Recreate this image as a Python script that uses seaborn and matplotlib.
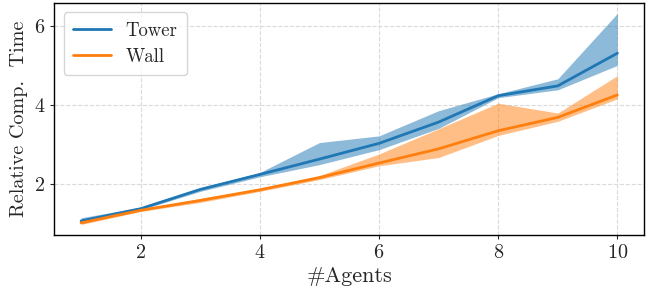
import numpy as np
import pandas as pd
import matplotlib
matplotlib.use("Agg")
import matplotlib.pyplot as plt
import seaborn as sns

agents = [1, 2, 3, 4, 5, 6, 7, 8, 9, 10]
tower_mid = [1.05, 1.36, 1.85, 2.23, 2.62, 3.02, 3.56, 4.23, 4.48, 5.31]
tower_low = [0.98, 1.33, 1.80, 2.17, 2.48, 2.86, 3.40, 4.18, 4.38, 5.00]
tower_high = [1.13, 1.40, 1.89, 2.28, 3.04, 3.21, 3.85, 4.28, 4.66, 6.32]
wall_mid = [1.00, 1.32, 1.57, 1.84, 2.15, 2.52, 2.88, 3.34, 3.68, 4.25]
wall_low = [0.96, 1.29, 1.52, 1.80, 2.10, 2.45, 2.66, 3.22, 3.58, 4.15]
wall_high = [1.04, 1.35, 1.62, 1.88, 2.20, 2.75, 3.39, 4.04, 3.79, 4.74]
series = ["Tower", "Wall"]

rows = []
for name, lo, mid, hi in [("Tower", tower_low, tower_mid, tower_high),
                          ("Wall", wall_low, wall_mid, wall_high)]:
    for x, a, b, c in zip(agents, lo, mid, hi):
        for v in (a, b, c):
            rows.append({"#Agents": x, "value": v, "method": name})
df = pd.DataFrame(rows)

sns.set_style("ticks")
plt.rcParams["font.family"] = ["serif"]
plt.rcParams["font.serif"] = ["cmr10", "DejaVu Serif"]
plt.rcParams["mathtext.fontset"] = "cm"
plt.rcParams["axes.formatter.use_mathtext"] = True

fig, ax = plt.subplots(figsize=(6.54, 2.88), dpi=100)
sns.lineplot(data=df, x="#Agents", y="value", hue="method", hue_order=series,
             estimator="median", errorbar=("pi", 100),
             palette=["#1f77b4", "#ff7f0e"], linewidth=2,
             err_kws={"alpha": 0.5, "linewidth": 0}, ax=ax)

ax.grid(True, linestyle="--", color="#dadada", linewidth=0.8)
ax.set_axisbelow(True)
ax.set_xlabel("#Agents", fontsize=16, labelpad=3)
ax.set_ylabel("Relative Comp.  Time", fontsize=14.5)
ax.set_xticks([2, 4, 6, 8, 10])
ax.set_yticks([2, 4, 6])
ax.tick_params(labelsize=14.5, length=3)
for s in ax.spines.values():
    s.set_visible(True)
    s.set_color("black")
    s.set_linewidth(1.0)
leg = ax.legend(loc="upper left", fontsize=13.5, frameon=True, framealpha=0.8,
                handlelength=2.0, borderpad=0.5, labelspacing=0.45)
leg.set_title(None)
fig.subplots_adjust(left=0.083, right=0.985, top=0.99, bottom=0.184)
fig.savefig("out.png", dpi=100)
